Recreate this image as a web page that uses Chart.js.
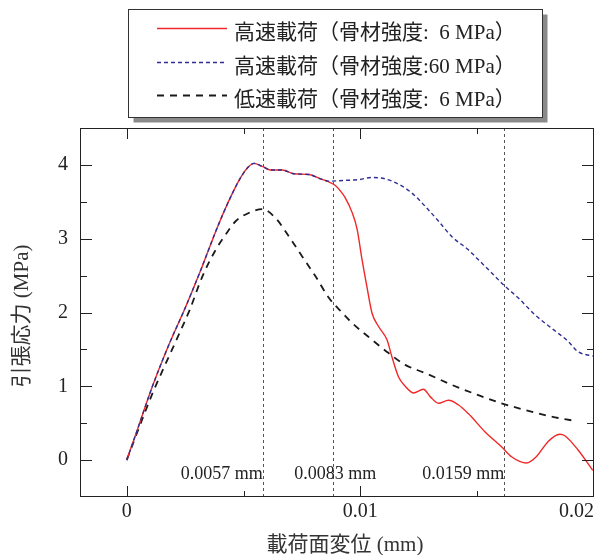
<!DOCTYPE html>
<html>
<head>
<meta charset="utf-8">
<script src="https://cdn.jsdelivr.net/npm/chart.js@4.4.0/dist/chart.umd.min.js"></script>
<style>
html, body { margin: 0; padding: 0; background: #fff; }
#wrap { width: 595px; height: 555px; }
</style>
</head>
<body>
<div id="wrap"><canvas id="chart" width="595" height="555"></canvas></div>
<script>
// values (displacement in mm, stress in MPa)
const fastWeakX = [0, 0.0004, 0.0011, 0.0018, 0.0025, 0.0032, 0.0039, 0.0045, 0.0049, 0.0052, 0.00545, 0.0058,
    0.00616, 0.00666, 0.00715, 0.0078, 0.0083, 0.00865, 0.00893, 0.00921, 0.00936, 0.00964, 0.00986, 0.01007,
    0.01028, 0.0105, 0.01078, 0.01114, 0.01135, 0.01163, 0.01192, 0.01227, 0.0127, 0.01299, 0.01334, 0.01377,
    0.01419, 0.01462, 0.01533, 0.01604, 0.01647, 0.01711, 0.01753, 0.01803, 0.01853, 0.01875, 0.01931, 0.01995];
const fastWeakY = [0, 0.36, 1.0, 1.56, 2.06, 2.6, 3.17, 3.6, 3.84, 3.97, 4.02, 3.98,
    3.93, 3.93, 3.88, 3.87, 3.81, 3.77, 3.72, 3.62, 3.55, 3.36, 3.13, 2.72,
    2.35, 1.99, 1.81, 1.63, 1.40, 1.13, 1.0, 0.91, 0.96, 0.86, 0.77, 0.81,
    0.75, 0.63, 0.385, 0.18, 0.045, -0.04, 0.045, 0.25, 0.35, 0.33, 0.14, -0.14];

const fastStrongX = [0, 0.0004, 0.0011, 0.0018, 0.0025, 0.0032, 0.0039, 0.0045, 0.0049, 0.0052, 0.00545, 0.0058,
    0.00616, 0.00666, 0.00715, 0.0078, 0.0083, 0.00865, 0.0093, 0.00993, 0.0105, 0.01107, 0.01163, 0.0122,
    0.01277, 0.01334, 0.01391, 0.01462, 0.01491, 0.01561, 0.01611, 0.01675, 0.01747, 0.01817, 0.01889, 0.01931, 0.01995];
const fastStrongY = [0, 0.36, 1.0, 1.56, 2.06, 2.6, 3.17, 3.6, 3.84, 3.97, 4.02, 3.98,
    3.93, 3.93, 3.88, 3.87, 3.81, 3.78, 3.79, 3.80, 3.83, 3.81, 3.74, 3.62,
    3.44, 3.24, 3.03, 2.85, 2.76, 2.54, 2.38, 2.20, 1.97, 1.79, 1.61, 1.47, 1.41];

const slowWeakX = [0, 0.00054, 0.00111, 0.0017, 0.0022, 0.0027, 0.00324, 0.00381, 0.00424, 0.00467, 0.00523, 0.0058,
    0.00637, 0.00694, 0.00751, 0.00808, 0.00865, 0.00921, 0.00964, 0.0105, 0.01121, 0.01192, 0.01277, 0.01391,
    0.01505, 0.01604, 0.01704, 0.01817, 0.01903];
const slowWeakY = [0, 0.45, 0.91, 1.33, 1.68, 2.04, 2.49, 2.85, 3.06, 3.24, 3.35, 3.40,
    3.28, 3.03, 2.76, 2.49, 2.2, 2.0, 1.86, 1.63, 1.45, 1.29, 1.18, 1.02,
    0.88, 0.77, 0.68, 0.59, 0.54];

const seriesNames = [
    "高速載荷（骨材強度:  6 MPa）",
    "高速載荷（骨材強度:60 MPa）",
    "低速載荷（骨材強度:  6 MPa）"
];

const xTickValues = [-0.002, 0, 0.01, 0.02];
const xTickLabels = ["", "0", "0.01", "0.02"];
const xMinorTicks = [0.005, 0.015];
const yTickValues = [0, 1, 2, 3, 4];
const yTickLabels = ["0", "1", "2", "3", "4"];
const yMinorTicks = [0.5, 1.5, 2.5, 3.5];

const markerX = [0.00582, 0.00884, 0.01616];
const markerLabels = ["0.0057 mm", "0.0083 mm", "0.0159 mm"];

const xTitle = "載荷面変位 (mm)";
const yTitle = "引張応力 (MPa)";

const serif = "'Liberation Serif', 'Noto Sans CJK JP', serif";
const ink = "#222";

function toPoints(xs, ys){
    return xs.map((x, i) => ({x: x, y: ys[i]}));
};

// dashed vertical markers with their labels, under the curves
const markerPlugin = {
    id: "markers",
    beforeDatasetsDraw(chart){
        const {ctx, chartArea, scales} = chart;
        const aligns = ["right", "center", "right"];
        ctx.save();
        ctx.strokeStyle = "#555";
        ctx.lineWidth = 1;
        ctx.setLineDash([3, 3]);
        markerX.forEach((v, i) => {
            const px = Math.round(scales.x.getPixelForValue(v)) + 0.5;
            ctx.beginPath();
            ctx.moveTo(px, chartArea.top);
            ctx.lineTo(px, chartArea.bottom);
            ctx.stroke();
        });
        ctx.setLineDash([]);
        ctx.fillStyle = ink;
        ctx.font = "18px " + serif;
        ctx.textBaseline = "alphabetic";
        markerX.forEach((v, i) => {
            const px = scales.x.getPixelForValue(v);
            ctx.textAlign = aligns[i];
            ctx.fillText(markerLabels[i], aligns[i] === "center" ? px + 2 : px, 479);
        });
        ctx.restore();
    }
};

// box frame, inward ticks on all four sides, axis titles
const framePlugin = {
    id: "frame",
    afterDatasetsDraw(chart){
        const {ctx, chartArea: a, scales} = chart;
        const xs = scales.x, ys = scales.y;
        ctx.save();
        ctx.strokeStyle = ink;
        ctx.lineWidth = 1;
        ctx.strokeRect(a.left + 0.5, a.top + 0.5, a.right - a.left - 1, a.bottom - a.top - 1);
        ctx.beginPath();
        const xTick = (v, len) => {
            const px = Math.round(xs.getPixelForValue(v)) + 0.5;
            if (px < a.left + 2 || px > a.right - 2) return;
            ctx.moveTo(px, a.bottom); ctx.lineTo(px, a.bottom - len);
            ctx.moveTo(px, a.top); ctx.lineTo(px, a.top + len);
        };
        const yTick = (v, len) => {
            const py = Math.round(ys.getPixelForValue(v)) + 0.5;
            if (py < a.top + 2 || py > a.bottom - 2) return;
            ctx.moveTo(a.left, py); ctx.lineTo(a.left + len, py);
            ctx.moveTo(a.right, py); ctx.lineTo(a.right - len, py);
        };
        xTickValues.forEach(v => xTick(v, v < 0 ? 0 : 11));
        xMinorTicks.forEach(v => xTick(v, 6));
        yTickValues.forEach(v => yTick(v, 12));
        yMinorTicks.forEach(v => yTick(v, 7));
        ctx.stroke();

        ctx.fillStyle = "#333";
        ctx.font = "21px " + serif;
        ctx.textAlign = "center";
        ctx.textBaseline = "middle";
        ctx.fillText(xTitle, 345, 545);
        ctx.translate(22, 316);
        ctx.rotate(-Math.PI / 2);
        ctx.fillText(yTitle, 0, 0);
        ctx.restore();
    }
};

// framed legend with a drop shadow
const legendPlugin = {
    id: "boxLegend",
    afterDraw(chart){
        const {ctx} = chart;
        const box = {x: 128.5, y: 9.5, w: 414, h: 108};
        const rows = [28, 62, 95];
        ctx.save();
        ctx.fillStyle = "#8a8a8a";
        ctx.fillRect(box.x + 5, box.y + 5, box.w, box.h);
        ctx.fillStyle = "#fff";
        ctx.fillRect(box.x, box.y, box.w, box.h);
        ctx.strokeStyle = "#333";
        ctx.lineWidth = 1;
        ctx.strokeRect(box.x, box.y, box.w, box.h);

        ctx.font = "21px " + serif;
        ctx.textAlign = "left";
        ctx.textBaseline = "middle";
        chart.data.datasets.forEach((ds) => {
            const idx = ds.legendIndex;
            const y = rows[idx] + 0.5;
            ctx.strokeStyle = ds.borderColor;
            ctx.lineWidth = ds.borderWidth;
            ctx.setLineDash(ds.borderDash || []);
            ctx.beginPath();
            ctx.moveTo(157, y);
            ctx.lineTo(227, y);
            ctx.stroke();
            ctx.setLineDash([]);
            ctx.fillStyle = ink;
            ctx.fillText(ds.label, 234, rows[idx] + 5);
        });
        ctx.restore();
    }
};

const lineStyle = {
    fill: false,
    pointRadius: 0,
    pointHoverRadius: 0,
    tension: 0,
    cubicInterpolationMode: "monotone",
};

const chartConfig = {
    type: "line",
    data: {
        datasets: [
            {
                ...lineStyle,
                label: seriesNames[1],
                legendIndex: 1,
                data: toPoints(fastStrongX, fastStrongY),
                borderColor: "#2e2e96",
                borderWidth: 1.4,
                borderDash: [4, 3],
            },
            {
                ...lineStyle,
                label: seriesNames[0],
                legendIndex: 0,
                data: toPoints(fastWeakX, fastWeakY),
                borderColor: "#f02828",
                borderWidth: 1.4,
            },
            {
                ...lineStyle,
                label: seriesNames[2],
                legendIndex: 2,
                data: toPoints(slowWeakX, slowWeakY),
                borderColor: "#1a1a1a",
                borderWidth: 1.8,
                borderDash: [7, 6],
            },
        ]
    },
    options: {
        responsive: false,
        animation: false,
        events: [],
        layout: {
            padding: {left: 0, top: 128, right: 1, bottom: 0}
        },
        scales: {
            x: {
                type: "linear",
                min: -0.002,
                max: 0.02,
                grid: {display: false, drawTicks: false},
                border: {display: false},
                afterBuildTicks: (scale) => {
                    scale.ticks = xTickValues.map(v => ({value: v}));
                },
                afterFit: (scale) => {
                    scale.height = 58;
                    scale.paddingLeft = 0;
                    scale.paddingRight = 0;
                },
                ticks: {
                    align: "inner",
                    autoSkip: false,
                    maxRotation: 0,
                    padding: 3,
                    color: ink,
                    font: {family: serif, size: 20},
                    callback: (value, index) => xTickLabels[index],
                }
            },
            y: {
                type: "linear",
                min: -0.5,
                max: 4.5,
                grid: {display: false, drawTicks: false},
                border: {display: false},
                afterBuildTicks: (scale) => {
                    scale.ticks = yTickValues.map(v => ({value: v}));
                },
                afterFit: (scale) => {
                    scale.width = 80;
                },
                ticks: {
                    autoSkip: false,
                    padding: 12,
                    color: ink,
                    font: {family: serif, size: 20},
                    callback: (value, index) => yTickLabels[index],
                }
            }
        },
        plugins: {
            legend: {display: false},
            tooltip: {enabled: false},
        }
    },
    plugins: [markerPlugin, framePlugin, legendPlugin]
};

new Chart(document.getElementById("chart"), chartConfig);
</script>
</body>
</html>
